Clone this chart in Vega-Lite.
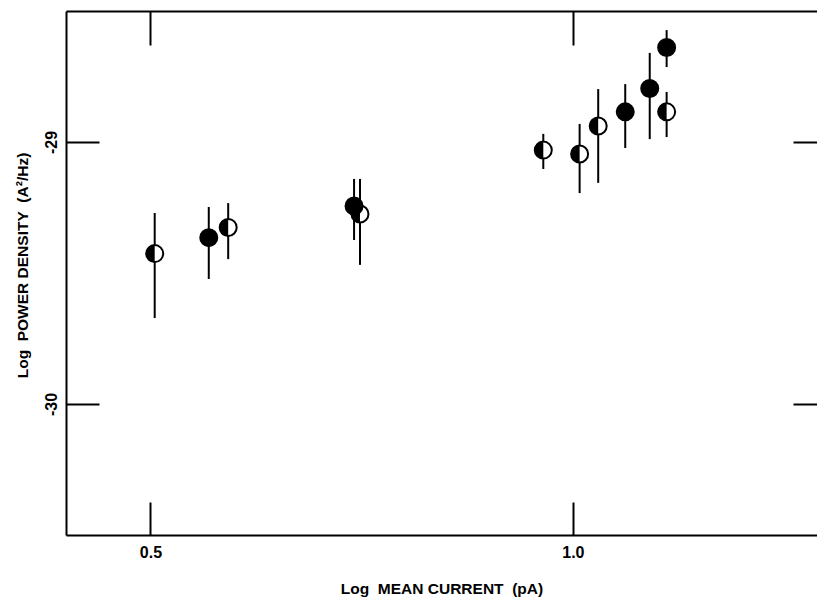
{
  "$schema": "https://vega.github.io/schema/vega-lite/v6.json",
  "width": 751,
  "height": 524,
  "autosize": {"type": "none"},
  "padding": {"left": 66, "top": 11, "right": 0, "bottom": 63},
  "background": "white",
  "config": {
    "view": {"stroke": null},
    "axis": {
      "labelFont": "Liberation Sans",
      "titleFont": "Liberation Sans",
      "labelFontWeight": "bold",
      "titleFontWeight": "bold",
      "labelFontSize": 16,
      "titleFontSize": 15.5,
      "labelColor": "black",
      "titleColor": "black",
      "domainColor": "black",
      "tickColor": "black",
      "domainWidth": 2,
      "tickWidth": 2,
      "grid": false
    }
  },
  "data": {
    "values": [
      {"x": 0.505, "y": -29.426, "hi": -29.271, "lo": -29.672, "kind": "half"},
      {"x": 0.569, "y": -29.365, "hi": -29.248, "lo": -29.523, "kind": "filled"},
      {"x": 0.592, "y": -29.326, "hi": -29.233, "lo": -29.447, "kind": "half"},
      {"x": 0.748, "y": -29.275, "hi": -29.141, "lo": -29.469, "kind": "half"},
      {"x": 0.741, "y": -29.244, "hi": -29.141, "lo": -29.374, "kind": "filled"},
      {"x": 0.965, "y": -29.031, "hi": -28.969, "lo": -29.103, "kind": "half"},
      {"x": 1.008, "y": -29.046, "hi": -28.931, "lo": -29.195, "kind": "half"},
      {"x": 1.030, "y": -28.939, "hi": -28.798, "lo": -29.156, "kind": "half"},
      {"x": 1.062, "y": -28.885, "hi": -28.779, "lo": -29.023, "kind": "filled"},
      {"x": 1.091, "y": -28.796, "hi": -28.660, "lo": -28.989, "kind": "filled"},
      {"x": 1.111, "y": -28.639, "hi": -28.573, "lo": -28.714, "kind": "filled"},
      {"x": 1.111, "y": -28.885, "hi": -28.809, "lo": -28.981, "kind": "half"}
    ]
  },
  "layer": [
    {
      "mark": {"type": "rule", "strokeWidth": 2, "color": "black"},
      "encoding": {
        "x": {
          "field": "x", "type": "quantitative",
          "scale": {"domain": [0.4, 1.289], "nice": false, "zero": false},
          "axis": {
            "orient": "bottom", "values": [0.5, 1.0], "format": ".1f",
            "tickSize": -33, "labelPadding": 42, "labelFlush": false,
            "title": "Log\u00a0\u00a0MEAN CURRENT\u00a0\u00a0(pA)", "titleY": 53, "titleBaseline": "middle"
          }
        },
        "y": {
          "field": "lo", "type": "quantitative",
          "scale": {"domain": [-30.5, -28.5], "nice": false, "zero": false},
          "axis": {
            "orient": "left", "values": [-29, -30],
            "labelExpr": "'-' + abs(datum.value)",
            "tickSize": -33, "labelPadding": 40, "labelAngle": -90,
            "labelAlign": "center", "labelBaseline": "bottom",
            "title": "Log\u00a0\u00a0POWER DENSITY\u00a0\u00a0(A²/Hz)",
            "titleX": -44, "titleY": 254, "titleAngle": -90,
            "titleAlign": "center", "titleBaseline": "middle"
          }
        },
        "y2": {"field": "hi"}
      }
    },
    {
      "mark": {
        "type": "point",
        "shape": "M-1,0A1,1,0,1,0,1,0A1,1,0,1,0,-1,0Z",
        "size": 289, "strokeWidth": 2, "stroke": "black", "opacity": 1, "filled": true
      },
      "encoding": {
        "x": {
          "field": "x", "type": "quantitative",
          "axis": {"orient": "top", "values": [0.5, 1.0], "tickSize": -34, "labels": false, "title": null}
        },
        "y": {
          "field": "y", "type": "quantitative",
          "axis": {"orient": "right", "values": [-29, -30], "tickSize": -24, "labels": false, "title": null, "domain": false}
        },
        "fill": {
          "field": "kind", "type": "nominal",
          "scale": {"domain": ["filled", "half"], "range": ["black", "white"]},
          "legend": null
        }
      }
    },
    {
      "transform": [{"filter": "datum.kind === 'half'"}],
      "mark": {
        "type": "point",
        "shape": "M0,-1A1,1,0,0,0,0,1Z",
        "size": 289, "filled": true, "fill": "black", "strokeWidth": 0, "opacity": 1
      },
      "encoding": {
        "x": {"field": "x", "type": "quantitative", "axis": null},
        "y": {"field": "y", "type": "quantitative", "axis": null}
      }
    }
  ]
}
